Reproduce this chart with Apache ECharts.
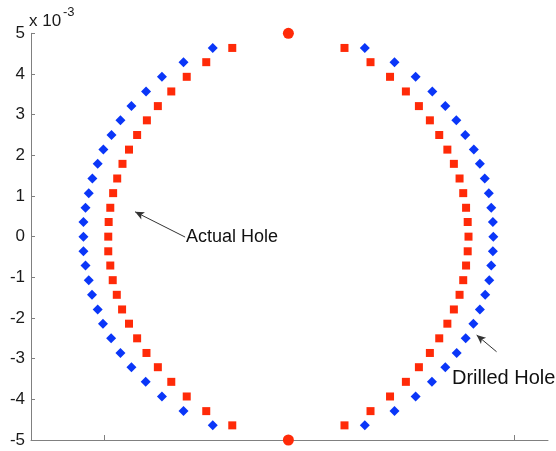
<!DOCTYPE html>
<html>
<head>
<meta charset="utf-8">
<script src="https://cdn.jsdelivr.net/npm/echarts@6/dist/echarts.min.js"></script>
<style>html,body{margin:0;padding:0;background:#fff;}#c{width:556px;height:451px;}</style>
</head>
<body>
<div id="c"></div>
<script>
// y positions (x 10^-3), shared by both hole outlines, top to bottom
var yLevels = [4.64, 4.29, 3.93, 3.57, 3.21, 2.86, 2.50, 2.14, 1.79, 1.43, 1.07, 0.71, 0.36, 0,
  -0.36, -0.71, -1.07, -1.43, -1.79, -2.14, -2.50, -2.86, -3.21, -3.57, -3.93, -4.29, -4.64];
// Actual Hole (red squares)
var actualLeft = [-1.38, -2.02, -2.50, -2.88, -3.21, -3.48, -3.72, -3.92, -4.08, -4.21, -4.31, -4.38, -4.42, -4.43,
  -4.43, -4.38, -4.32, -4.22, -4.09, -3.92, -3.72, -3.49, -3.21, -2.88, -2.50, -2.02, -1.38];
var actualRight = [1.38, 2.02, 2.50, 2.89, 3.21, 3.48, 3.71, 3.91, 4.07, 4.21, 4.30, 4.37, 4.41, 4.43,
  4.41, 4.37, 4.30, 4.21, 4.07, 3.91, 3.71, 3.48, 3.21, 2.89, 2.50, 2.02, 1.38];
// Drilled Hole (blue diamonds)
var drilledLeft = [-1.86, -2.58, -3.11, -3.50, -3.86, -4.13, -4.35, -4.55, -4.69, -4.82, -4.91, -4.99, -5.04, -5.04,
  -5.04, -4.99, -4.91, -4.83, -4.69, -4.56, -4.36, -4.13, -3.86, -3.51, -3.11, -2.58, -1.86];
var drilledRight = [1.88, 2.61, 3.13, 3.54, 3.86, 4.13, 4.35, 4.56, 4.71, 4.83, 4.93, 4.99, 5.03, 5.04,
  5.03, 4.99, 4.94, 4.84, 4.71, 4.55, 4.36, 4.14, 3.86, 3.53, 3.13, 2.61, 1.88];
// end points (red circles)
var endX = [0, 0];
var endY = [5, -5];
var yTicks = [-5, -4, -3, -2, -1, 0, 1, 2, 3, 4, 5];
var xTickPositions = [-4.53, 5.55];

function pairs(xs, ys) { return xs.map(function (x, i) { return [x, ys[i]]; }); }
var red = '#ff2a08', blue = '#0a36f8';
var font = '"Liberation Sans", Arial, sans-serif';

var chart = echarts.init(document.getElementById('c'), null, {renderer: 'canvas'});
chart.setOption({
  animation: false,
  backgroundColor: '#fff',
  grid: {left: 31, right: 8, top: 33.3, bottom: 11},
  xAxis: {
    type: 'value', min: -6.33, max: 6.385,
    axisLine: {show: true, onZero: false, lineStyle: {color: '#808080', width: 1}},
    axisTick: {show: true, inside: true, length: 5, customValues: xTickPositions, lineStyle: {color: '#808080'}},
    axisLabel: {show: false},
    splitLine: {show: false}
  },
  yAxis: {
    type: 'value', min: yTicks[0], max: yTicks[yTicks.length - 1], interval: 1,
    axisLine: {show: true, onZero: false, lineStyle: {color: '#808080', width: 1}},
    axisTick: {show: true, inside: true, length: 4, lineStyle: {color: '#808080'}},
    axisLabel: {color: '#1a1a1a', fontSize: 17, fontFamily: font, margin: 6},
    splitLine: {show: false}
  },
  series: [
    {type: 'scatter', name: 'Drilled Hole', symbol: 'diamond', symbolSize: 10, itemStyle: {color: blue, opacity: 1},
      data: pairs(drilledLeft, yLevels).concat(pairs(drilledRight, yLevels))},
    {type: 'scatter', name: 'Actual Hole', symbol: 'rect', symbolSize: 8, itemStyle: {color: red, opacity: 1},
      data: pairs(actualLeft, yLevels).concat(pairs(actualRight, yLevels)),
      markLine: {
        silent: true, symbol: ['none', 'arrow'], symbolSize: [6, 9],
        lineStyle: {color: '#333', width: 1, type: 'solid'}, label: {show: false},
        data: [
          [{coord: [-2.54, -0.01]}, {coord: [-3.77, 0.61]}],
          [{coord: [5.12, -2.83]}, {coord: [4.63, -2.42]}]
        ]
      }},
    {type: 'scatter', name: 'Ends', symbol: 'circle', symbolSize: 11, itemStyle: {color: red, opacity: 1},
      data: pairs(endX, endY), clip: false}
  ],
  graphic: [
    {type: 'text', left: 186, top: 228, style: {text: 'Actual Hole', fill: '#111', font: '18px ' + font}},
    {type: 'text', left: 452, top: 368, style: {text: 'Drilled Hole', fill: '#111', font: '20px ' + font}},
    {type: 'text', left: 29, top: 13, style: {text: 'x 10', fill: '#1a1a1a', font: '17px ' + font}},
    {type: 'text', left: 63, top: 6, style: {text: '-3', fill: '#1a1a1a', font: '13px ' + font}}
  ]
});
</script>
</body>
</html>
